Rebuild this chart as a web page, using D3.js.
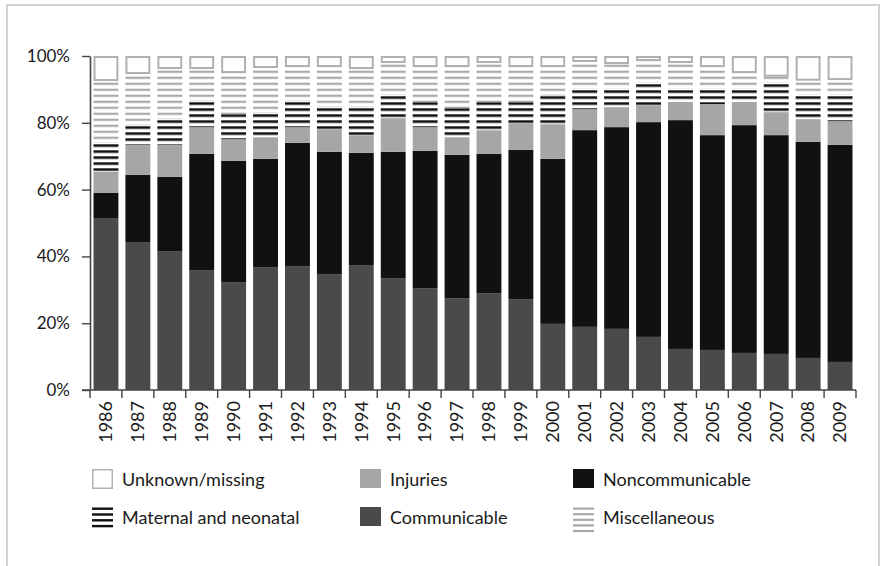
<!DOCTYPE html>
<html><head><meta charset="utf-8">
<script src="https://cdn.jsdelivr.net/npm/d3@7"></script>
<style>
html,body{margin:0;padding:0;background:#fff;}
text{font-family:Lato,"Open Sans",sans-serif;fill:#1a1a1a;}
</style></head>
<body><svg id="chart" width="887" height="566"></svg>
<script>
const years = ["1986","1987","1988","1989","1990","1991","1992","1993","1994","1995","1996","1997","1998","1999","2000","2001","2002","2003","2004","2005","2006","2007","2008","2009"];
const communicable = [51.5,44.3,41.6,35.9,32.3,36.8,37.1,34.7,37.4,33.5,30.5,27.5,29.0,27.2,19.8,18.9,18.3,15.9,12.3,12.0,11.1,10.8,9.6,8.4];
const noncommunicable = [7.5,20.1,22.2,34.8,36.3,32.4,36.9,36.6,33.6,37.8,41.1,42.9,41.7,44.7,49.4,58.9,60.4,64.3,68.5,64.3,68.2,65.5,64.7,65.0];
const injuries = [6.3,9.0,9.6,8.0,6.5,6.5,4.7,6.8,5.3,10.1,7.1,5.3,7.1,8.0,10.4,6.3,6.0,5.1,5.4,9.3,6.9,6.9,6.8,7.1];
const maternal = [8.7,5.9,7.7,7.8,7.5,7.2,7.8,6.6,8.4,6.9,7.5,8.7,8.4,6.3,8.6,6.1,5.5,6.7,4.0,4.6,4.0,8.8,7.3,7.9];
const miscellaneous = [18.5,15.3,15.0,9.6,12.3,13.5,10.2,12.0,11.4,9.6,10.5,12.3,11.7,10.5,8.5,8.0,7.4,6.5,7.7,6.5,4.7,1.8,4.2,4.4];
const unknown = [7.5,5.4,3.9,3.9,5.1,3.6,3.3,3.3,3.9,2.1,3.3,3.3,2.1,3.3,3.3,1.8,2.4,1.5,2.1,3.3,5.1,6.2,7.4,7.2];
const yTicks = [0,20,40,60,80,100];

const keys = ["communicable","noncommunicable","injuries","maternal","miscellaneous","unknown"];
const series = {communicable, noncommunicable, injuries, maternal, miscellaneous, unknown};
const table = years.map((y,i)=>{const o={year:y}; keys.forEach(k=>o[k]=series[k][i]); return o;});

const svg = d3.select("#chart");
const defs = svg.append("defs");
const pm = defs.append("pattern").attr("id","patMat").attr("patternUnits","userSpaceOnUse")
  .attr("x",0).attr("y",0.3).attr("width",10).attr("height",6);
pm.append("rect").attr("width",10).attr("height",6).attr("fill","#fff");
pm.append("rect").attr("width",10).attr("height",2.6).attr("fill","#111");
const pg = defs.append("pattern").attr("id","patMisc").attr("patternUnits","userSpaceOnUse")
  .attr("x",0).attr("y",4.7).attr("width",10).attr("height",6);
pg.append("rect").attr("width",10).attr("height",6).attr("fill","#fff");
pg.append("rect").attr("width",10).attr("height",2.2).attr("fill","#a9a9a9");

const fills = {communicable:"#4a4a4a", noncommunicable:"#111111", injuries:"#a6a6a6",
  maternal:"url(#patMat)", miscellaneous:"url(#patMisc)", unknown:"#ffffff"};

svg.append("rect").attr("x",7).attr("y",5).attr("width",872).attr("height",620)
  .attr("fill","none").attr("stroke","#d2d2d2").attr("stroke-width",2);

const x = d3.scaleBand().domain(years).range([90,856]).paddingInner(0.22).paddingOuter(0.11);
const y = d3.scaleLinear().domain([0,100]).range([390,56]);

const stack = d3.stack().keys(keys)(table);

const g = svg.append("g");
stack.forEach(layer=>{
  const k = layer.key;
  const ins = k==="unknown" ? 1 : 0;
  g.selectAll(null).data(layer).enter().append("rect")
    .attr("x", d=>x(d.data.year) + ins)
    .attr("y", d=>y(d[1]) + ins)
    .attr("width", x.bandwidth() - 2*ins)
    .attr("height", d=>Math.max(0, y(d[0])-y(d[1]) - 2*ins))
    .attr("fill", fills[k])
    .attr("stroke", k==="unknown" ? "#b0b0b0" : "none")
    .attr("stroke-width", k==="unknown" ? 2 : 0);
});

const yAxis = svg.append("g").attr("transform","translate(90,0)")
  .call(d3.axisLeft(y).tickValues(yTicks).tickFormat(d=>d+"%").tickSize(8).tickSizeOuter(0));
yAxis.select(".domain").attr("stroke","#444").attr("stroke-width",1.6);
yAxis.selectAll(".tick line").attr("stroke","#444").attr("stroke-width",1.4);
yAxis.selectAll(".tick text").attr("x",-20).style("font-size","17px").style("font-family","Lato").attr("fill","#1a1a1a");

svg.append("line").attr("x1",82).attr("x2",856).attr("y1",390).attr("y2",390)
  .attr("stroke","#444").attr("stroke-width",1.6);
const bounds = years.map(d=>x(d) - x.step()*x.paddingInner()/2 ).concat([856]);
svg.selectAll(null).data(bounds).enter().append("line")
  .attr("x1",d=>d).attr("x2",d=>d).attr("y1",390).attr("y2",398)
  .attr("stroke","#444").attr("stroke-width",1.4);
svg.selectAll(null).data(years).enter().append("text")
  .attr("transform", d=>`translate(${x(d)+x.bandwidth()/2},401) rotate(-90)`)
  .attr("text-anchor","end").attr("dy","0.35em")
  .style("font-size","18px").text(d=>d);

const legendItems = [
  {key:"unknown", label:"Unknown/missing", col:92, row:0},
  {key:"injuries", label:"Injuries", col:360, row:0},
  {key:"noncommunicable", label:"Noncommunicable", col:573, row:0},
  {key:"maternal", label:"Maternal and neonatal", col:92, row:1},
  {key:"communicable", label:"Communicable", col:360, row:1},
  {key:"miscellaneous", label:"Miscellaneous", col:573, row:1}
];
const rowY = [469, 507];
legendItems.forEach(it=>{
  const gy = rowY[it.row];
  const lg = svg.append("g");
  if (it.key==="maternal") {
    lg.selectAll(null).data([0,1,2,3]).enter().append("rect")
      .attr("x",it.col).attr("y",d=>gy+0.5+d*5.8).attr("width",21).attr("height",2.4).attr("fill","#111");
  } else if (it.key==="miscellaneous") {
    lg.selectAll(null).data([0,1,2,3,4]).enter().append("rect")
      .attr("x",it.col).attr("y",d=>gy+0.5+d*5.6).attr("width",21).attr("height",2.2).attr("fill","#a9a9a9");
  } else {
    lg.append("rect").attr("x",it.col+(it.key==="unknown"?0.75:0)).attr("y",gy+(it.key==="unknown"?0.75:0))
      .attr("width",it.key==="unknown"?19.5:21).attr("height",it.key==="unknown"?18.5:19)
      .attr("fill",fills[it.key])
      .attr("stroke",it.key==="unknown"?"#b3b3b3":"none").attr("stroke-width",1.5);
  }
  lg.append("text").attr("x",it.col+30).attr("y",gy+17).style("font-size","18px").text(it.label);
});
</script></body></html>
